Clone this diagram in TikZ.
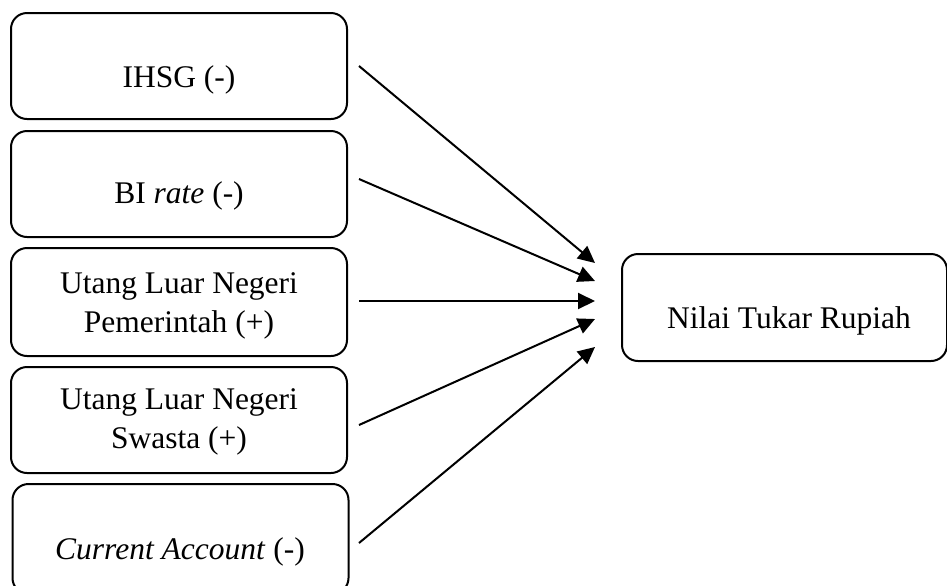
\documentclass[tikz,border=0pt]{standalone}
\usepackage{fontspec}
\setmainfont{Liberation Serif}
\usetikzlibrary{arrows.meta}
\begin{document}
\begin{tikzpicture}[x=0.5pt,y=-0.5pt,
  box/.style={draw=black, line width=1pt, rounded corners=8pt, inner sep=0pt, outer sep=0pt},
  txt/.style={anchor=base, align=center, inner sep=0pt, font=\fontsize{15.75}{19.5}\selectfont},
  arr/.style={line width=1pt, -{Triangle[length=8.5pt,width=8pt]}}]
\useasboundingbox (0,0) rectangle (947,585);
% left boxes
\node[box, minimum width=168pt, minimum height=53pt] (b1) at (179,66) {};
\node[box, minimum width=168pt, minimum height=53pt] (b2) at (179,184) {};
\node[box, minimum width=168pt, minimum height=54pt] (b3) at (179,302) {};
\node[box, minimum width=168pt, minimum height=53pt] (b4) at (179,420) {};
\node[box, minimum width=168pt, minimum height=55pt] (b5) at (180.5,539) {};
% right box
\node[box, minimum width=162.5pt, minimum height=53.5pt] (r) at (784.5,307.5) {};
% texts
\node[txt] (t1) at (179,87) {IHSG (-)};
\node[txt] (t2) at (179,203) {BI \textit{rate} (-)};
\node[txt] (t3) at (179,332) {Utang Luar Negeri\\Pemerintah (+)};
\node[txt] (t4) at (179,448) {Utang Luar Negeri\\Swasta (+)};
\node[txt] (t5) at (180,559) {\textit{Current Account} (-)};
\node[txt] (tr) at (789,328) {Nilai Tukar Rupiah};
% connector ends
\coordinate (s1) at (359,66);
\coordinate (s2) at (359,179);
\coordinate (s3) at (359,301);
\coordinate (s4) at (359,425);
\coordinate (s5) at (359,543);
\coordinate (e1) at (595,263);
\coordinate (e2) at (595,281);
\coordinate (e3) at (595,301);
\coordinate (e4) at (595,319);
\coordinate (e5) at (595,347);
\draw[arr] (s1) -- (e1);
\draw[arr] (s2) -- (e2);
\draw[arr] (s3) -- (e3);
\draw[arr] (s4) -- (e4);
\draw[arr] (s5) -- (e5);
\end{tikzpicture}
\end{document}
